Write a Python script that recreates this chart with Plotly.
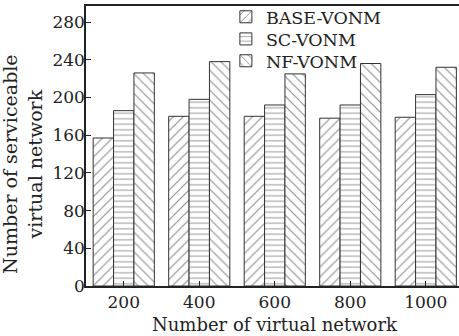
import plotly.graph_objects as go

categories = ["200", "400", "600", "800", "1000"]
base_vonm = [157, 180, 180, 178, 179]
sc_vonm = [186, 198, 192, 192, 203]
nf_vonm = [226, 238, 225, 236, 232]
y_ticks = [0, 40, 80, 120, 160, 200, 240, 280]

FONT = "DejaVu Serif"
INK = "#222222"
HATCH = "#222222"

fig = go.Figure()
series = [
    ("BASE-VONM", base_vonm, "/", 7, "legend"),
    ("SC-VONM", sc_vonm, "-", 5.5, "legend2"),
    ("NF-VONM", nf_vonm, "\\", 7, "legend3"),
]
for name, vals, shape, size, leg in series:
    fig.add_trace(go.Bar(
        name=name, x=categories, y=vals, legend=leg,
        marker=dict(
            color="white",
            line=dict(color="#333333", width=1),
            pattern=dict(shape=shape, fgcolor=HATCH, bgcolor="white",
                         size=size, solidity=0.17, fillmode="overlay"),
        ),
    ))

leg_common = dict(x=0.375, xanchor="left", yanchor="middle",
                  bgcolor="rgba(0,0,0,0)", borderwidth=0,
                  font=dict(family=FONT, size=17.5, color=INK),
                  itemwidth=30)

fig.update_layout(
    width=459, height=336,
    margin=dict(l=86, r=0, t=6, b=50, autoexpand=False),
    paper_bgcolor="white", plot_bgcolor="white",
    barmode="group", bargap=0.19, bargroupgap=0,
    font=dict(family=FONT, size=17, color=INK),
    showlegend=True,
    legend=dict(y=0.961, **leg_common),
    legend2=dict(y=0.882, **leg_common),
    legend3=dict(y=0.804, **leg_common),
)
fig.update_xaxes(
    type="category", range=[-0.5, 4.44], automargin=False,
    showline=True, linecolor=INK, linewidth=1.5, mirror=True,
    ticks="inside", ticklen=5, tickcolor=INK, tickwidth=1,
    showgrid=False, zeroline=False,
    tickfont=dict(family=FONT, size=17, color=INK),
    ticklabelstandoff=0,
)
fig.update_yaxes(
    range=[0, 297], tickvals=y_ticks, automargin=False,
    showline=True, linecolor=INK, linewidth=1.5, mirror=False,
    ticks="inside", ticklen=5, tickcolor=INK, tickwidth=1,
    showgrid=False, zeroline=False,
    tickfont=dict(family=FONT, size=17, color=INK),
    ticklabelstandoff=-4,
)
fig.add_annotation(
    text="Number of serviceable<br>virtual network",
    xref="paper", yref="paper", x=-0.169, y=0.436,
    xanchor="center", yanchor="middle", textangle=-90,
    showarrow=False, font=dict(family=FONT, size=19, color=INK),
)
fig.add_annotation(
    text="Number of virtual network",
    xref="paper", yref="paper", x=0.508, y=-0.139,
    xanchor="center", yanchor="middle",
    showarrow=False, font=dict(family=FONT, size=18, color=INK),
)

fig.write_html(
    "out.html",
    config={"displayModeBar": False},
    post_script="document.body.style.margin='0';document.body.style.padding='0';document.body.style.overflow='hidden';",
)
